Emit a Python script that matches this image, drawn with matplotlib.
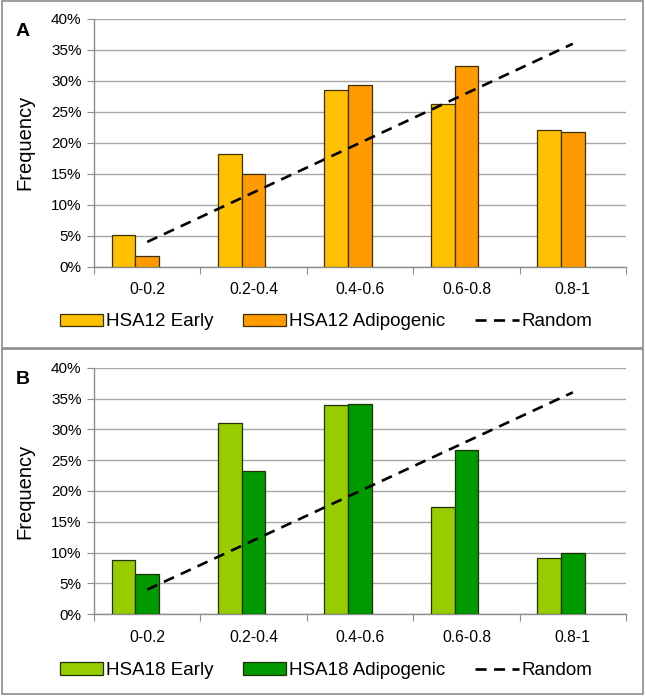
import numpy as np
import matplotlib
matplotlib.use("Agg")
import matplotlib.pyplot as plt
from matplotlib.patches import Rectangle

plt.rcParams['font.family'] = ['Liberation Sans', 'DejaVu Sans']

# bins of the histogram
categories = ["0-0.2", "0.2-0.4", "0.4-0.6", "0.6-0.8", "0.8-1"]

# values, in percent
hsa12_early = [5.1, 18.2, 28.5, 26.3, 22.0]
hsa12_adipo = [1.7, 15.0, 29.3, 32.4, 21.8]
hsa18_early = [8.8, 31.0, 34.0, 17.4, 9.1]
hsa18_adipo = [6.5, 23.2, 34.1, 26.6, 9.9]
random_line = [4, 12, 20, 28, 36]

yticks = [0, 5, 10, 15, 20, 25, 30, 35, 40]

W, H = 646, 697
fig = plt.figure(figsize=(W / 100, H / 100), dpi=100)

# panel frames
for (y0, y1) in [(1, 347.5), (348.5, 694)]:
    fig.patches.append(Rectangle((2 / W, 1 - y1 / H), 641 / W, (y1 - y0) / H,
                                 transform=fig.transFigure, fill=False,
                                 edgecolor='#8c8c8c', linewidth=1.2))

w = 0.223
x = np.arange(len(categories))


def panel(top_px, bottom_px, early, adipo, c_early, c_adipo, edge, names, letter, leg_y):
    ax = fig.add_axes([94 / W, 1 - bottom_px / H, 532 / W, (bottom_px - top_px) / H])
    b1 = ax.bar(x - w, early, width=w, color=c_early, edgecolor=edge, linewidth=0.9,
                zorder=3)
    b2 = ax.bar(x, adipo, width=w, color=c_adipo, edgecolor=edge, linewidth=0.9,
                zorder=3)
    ln, = ax.plot(x, random_line, color='black', linestyle=(0, (4.2, 2.8)), linewidth=1.9,
                  zorder=4)
    ax.set_xlim(-0.5, 4.5)
    ax.set_ylim(0, 40)
    ax.set_yticks(yticks)
    ax.set_yticklabels([f"{t}%" for t in yticks], fontsize=11)
    ax.set_xticks(np.arange(-0.5, 5, 1.0))
    ax.set_xticklabels([])
    ax.set_xticks(x, minor=True)
    ax.set_xticklabels(categories, minor=True, fontsize=11.3)
    ax.tick_params(axis='x', which='minor', length=0, pad=11)
    ax.tick_params(axis='x', which='major', length=5, color='#8c8c8c')
    ax.tick_params(axis='y', length=5, color='#8c8c8c', pad=4)
    ax.grid(axis='y', color='#a6a6a6', linewidth=1.0, zorder=0)
    for s in ['top', 'right']:
        ax.spines[s].set_visible(False)
    for s in ['left', 'bottom']:
        ax.spines[s].set_color('#8c8c8c')
        ax.spines[s].set_linewidth(1.0)
    ax.set_ylabel("Frequency", fontsize=14.5)
    ax.yaxis.set_label_coords(-0.113, 0.5)
    fig.text(23 / W, 1 - (top_px + 12) / H, letter, fontsize=14, fontweight='bold',
             ha='center', va='center')
    fig.legend([b1, b2, ln], [names[0], names[1], 'Random'], loc='center',
               bbox_to_anchor=(326 / W, 1 - leg_y / H), ncol=3,
               frameon=False, fontsize=13.5, handlelength=2.3, handleheight=0.65,
               handletextpad=0.15, columnspacing=1.6, borderpad=0)
    return ax


panel(19, 266.7, hsa12_early, hsa12_adipo, '#ffc000', '#ff9a00', '#3d3000',
      ["HSA12 Early", "HSA12 Adipogenic"], "A", 322)
panel(367.7, 614.3, hsa18_early, hsa18_adipo, '#99cc00', '#009900', '#1e3300',
      ["HSA18 Early", "HSA18 Adipogenic"], "B", 670.5)

fig.savefig("out.png", dpi=100)
